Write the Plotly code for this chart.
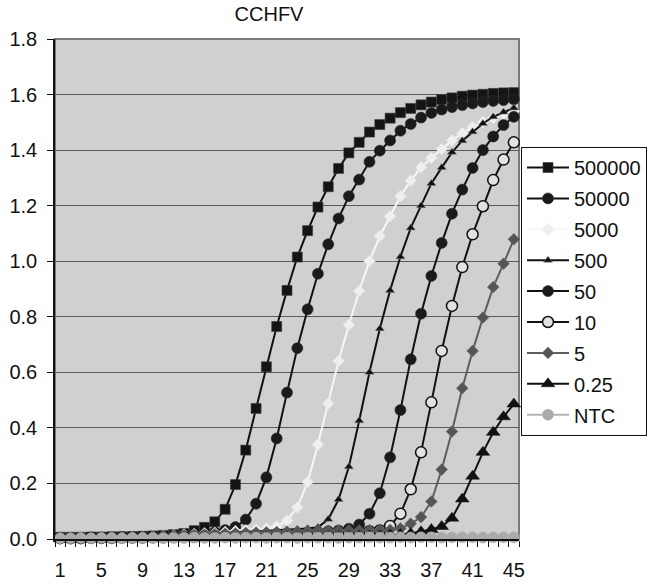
import plotly.graph_objects as go

# Real-time PCR amplification curves, CCHFV dilution series (fluorescence vs. cycle)
cycles = list(range(1, 46))

s_500000 = [0.006, 0.006, 0.006, 0.007, 0.007, 0.008, 0.008, 0.009, 0.010, 0.011, 0.013, 0.016,
            0.020, 0.030, 0.042, 0.062, 0.107, 0.196, 0.320, 0.470, 0.620, 0.765, 0.895, 1.015,
            1.110, 1.195, 1.268, 1.334, 1.390, 1.428, 1.465, 1.492, 1.515, 1.535, 1.550, 1.563,
            1.573, 1.582, 1.588, 1.594, 1.598, 1.601, 1.604, 1.606, 1.607]
s_50000 = [0.005, 0.005, 0.005, 0.006, 0.006, 0.006, 0.007, 0.007, 0.008, 0.009, 0.010, 0.011,
           0.013, 0.016, 0.020, 0.025, 0.032, 0.043, 0.070, 0.127, 0.222, 0.362, 0.527, 0.687,
           0.827, 0.955, 1.061, 1.154, 1.234, 1.294, 1.358, 1.398, 1.435, 1.470, 1.494, 1.517,
           1.534, 1.546, 1.555, 1.562, 1.568, 1.573, 1.577, 1.580, 1.583]
s_5000 = [0.005, 0.005, 0.006, 0.006, 0.007, 0.007, 0.008, 0.009, 0.010, 0.011, 0.012, 0.014,
          0.016, 0.018, 0.020, 0.022, 0.025, 0.028, 0.031, 0.034, 0.037, 0.045, 0.066, 0.114,
          0.205, 0.340, 0.488, 0.641, 0.771, 0.893, 1.000, 1.090, 1.162, 1.234, 1.290, 1.338,
          1.372, 1.404, 1.435, 1.461, 1.483, 1.501, 1.516, 1.529, 1.540]
s_500 = [0.004, 0.004, 0.005, 0.005, 0.005, 0.006, 0.006, 0.007, 0.008, 0.009, 0.010, 0.011,
         0.013, 0.015, 0.017, 0.019, 0.021, 0.023, 0.025, 0.027, 0.029, 0.031, 0.033, 0.035,
         0.038, 0.042, 0.071, 0.142, 0.260, 0.426, 0.600, 0.757, 0.895, 1.016, 1.120, 1.200,
         1.280, 1.337, 1.392, 1.434, 1.466, 1.496, 1.520, 1.537, 1.552]
s_50 = [0.003, 0.003, 0.004, 0.004, 0.004, 0.005, 0.005, 0.005, 0.006, 0.006, 0.007, 0.007,
        0.008, 0.009, 0.010, 0.011, 0.012, 0.013, 0.014, 0.015, 0.017, 0.019, 0.020, 0.022,
        0.024, 0.026, 0.028, 0.031, 0.037, 0.052, 0.091, 0.165, 0.294, 0.464, 0.647, 0.811,
        0.947, 1.066, 1.171, 1.258, 1.336, 1.400, 1.449, 1.490, 1.520]
s_10 = [0.003, 0.003, 0.003, 0.004, 0.004, 0.004, 0.005, 0.005, 0.005, 0.006, 0.006, 0.007,
        0.007, 0.008, 0.009, 0.010, 0.011, 0.012, 0.013, 0.014, 0.015, 0.016, 0.017, 0.018,
        0.019, 0.020, 0.021, 0.022, 0.024, 0.026, 0.028, 0.031, 0.047, 0.091, 0.179, 0.312,
        0.492, 0.677, 0.839, 0.979, 1.097, 1.198, 1.292, 1.366, 1.428]
s_5 = [0.004, 0.004, 0.005, 0.005, 0.006, 0.006, 0.007, 0.008, 0.009, 0.010, 0.011, 0.012,
       0.013, 0.015, 0.016, 0.018, 0.019, 0.020, 0.022, 0.023, 0.024, 0.025, 0.026, 0.027,
       0.028, 0.029, 0.030, 0.030, 0.031, 0.031, 0.032, 0.032, 0.033, 0.038, 0.055, 0.079,
       0.135, 0.250, 0.387, 0.543, 0.677, 0.797, 0.907, 0.991, 1.079]
s_025 = [0.000, 0.000, 0.000, 0.001, 0.001, 0.001, 0.001, 0.002, 0.002, 0.002, 0.002, 0.003,
         0.003, 0.003, 0.003, 0.004, 0.004, 0.004, 0.005, 0.005, 0.005, 0.006, 0.006, 0.006,
         0.007, 0.007, 0.008, 0.008, 0.009, 0.010, 0.011, 0.012, 0.014, 0.016, 0.020, 0.026,
         0.034, 0.045, 0.075, 0.144, 0.226, 0.312, 0.384, 0.440, 0.486]
s_ntc = [0.003, 0.003, 0.004, 0.003, 0.004, 0.004, 0.003, 0.004, 0.004, 0.004, 0.003, 0.004,
         0.004, 0.005, 0.004, 0.004, 0.005, 0.004, 0.005, 0.005, 0.004, 0.005, 0.005, 0.004,
         0.005, 0.005, 0.005, 0.004, 0.005, 0.005, 0.006, 0.005, 0.005, 0.006, 0.005, 0.006,
         0.006, 0.005, 0.006, 0.006, 0.006, 0.005, 0.006, 0.006, 0.006]

y_ticks = [0.0, 0.2, 0.4, 0.6, 0.8, 1.0, 1.2, 1.4, 1.6, 1.8]
x_ticks = [1, 5, 9, 13, 17, 21, 25, 29, 33, 37, 41, 45]

FONT = "Liberation Sans, Arial, sans-serif"

# name, values, line colour, marker symbol, marker size, fill, outline colour, outline width
series = [
    ("500000", s_500000, "#111111", "square", 10, "#141414", "#3a3a3a", 0.6),
    ("50000", s_50000, "#111111", "circle", 11, "#1a1a1a", "#2a2a2a", 0.6),
    ("5000", s_5000, "#f7f7f7", "diamond", 9, "#efefef", "#e4e4e4", 0.6),
    ("500", s_500, "#111111", "triangle-up", 8, "#111111", "#8a8a8a", 0.5),
    ("50", s_50, "#111111", "circle", 11, "#1a1a1a", "#2a2a2a", 0.6),
    ("10", s_10, "#111111", "circle", 11, "#e2e2e2", "#111111", 1.5),
    ("5", s_5, "#5e5e5e", "diamond", 9, "#555555", "#6a6a6a", 0.6),
    ("0.25", s_025, "#111111", "triangle-up", 12, "#111111", "#111111", 0.5),
    ("NTC", s_ntc, "#b4b4b4", "circle", 11, "#aaaaaa", "#b0b0b0", 0.6),
]

fig = go.Figure()
for name, vals, lcol, sym, size, fill, ocol, ow in series:
    assert len(vals) == len(cycles)
    fig.add_trace(go.Scatter(
        x=cycles, y=vals, name=name, legendgroup=name, mode="lines+markers",
        line=dict(color=lcol, width=2),
        marker=dict(symbol=sym, size=size, color=fill, line=dict(color=ocol, width=ow)),
        cliponaxis=False,
    ))

# plot-area frame: grey on top and right, black axis lines on left/bottom
fig.add_shape(type="rect", xref="paper", yref="paper", x0=0, x1=1, y0=0, y1=1,
              line=dict(color="#7a7a7a", width=2), layer="below")

fig.update_layout(
    width=647, height=585,
    margin=dict(l=55, r=128, t=39, b=46, autoexpand=False),
    paper_bgcolor="white",
    plot_bgcolor="#cfd0d0",
    font=dict(family=FONT, size=20, color="#111111"),
    title=dict(text="CCHFV", x=269 / 647, xref="container", xanchor="center",
               y=1 - 14 / 585, yref="container", yanchor="middle",
               font=dict(family=FONT, size=20, color="#111111")),
    showlegend=True,
    legend=dict(x=521 / 647, xref="container", xanchor="left",
                y=1 - 147 / 585, yref="container", yanchor="top",
                bgcolor="white", bordercolor="#111111", borderwidth=1,
                font=dict(family=FONT, size=20, color="#111111"),
                itemwidth=42, traceorder="grouped", tracegroupgap=1.9),
)

fig.update_xaxes(
    range=[0.5, 45.5], tickmode="array", tickvals=x_ticks, automargin=False,
    ticktext=[str(v) for v in x_ticks], ticks="", ticklabelstandoff=12,
    showgrid=False, zeroline=False,
    showline=True, linecolor="#111111", linewidth=1.5,
    minor=dict(ticks="outside", tick0=0.5, dtick=1, ticklen=6, tickcolor="#111111",
               tickwidth=1, showgrid=False),
    tickfont=dict(family=FONT, size=20, color="#111111"),
)
fig.update_yaxes(
    range=[0, 1.8], tickmode="array", tickvals=y_ticks, automargin=False,
    ticktext=[f"{v:.1f}" for v in y_ticks],
    ticks="outside", ticklen=6, tickcolor="#111111", tickwidth=1, ticklabelstandoff=6,
    showgrid=True, gridcolor="#5a5a5a", gridwidth=1.3, zeroline=False,
    showline=True, linecolor="#111111", linewidth=1.5,
    tickfont=dict(family=FONT, size=20, color="#111111"),
)

fig.write_html("out.html")
